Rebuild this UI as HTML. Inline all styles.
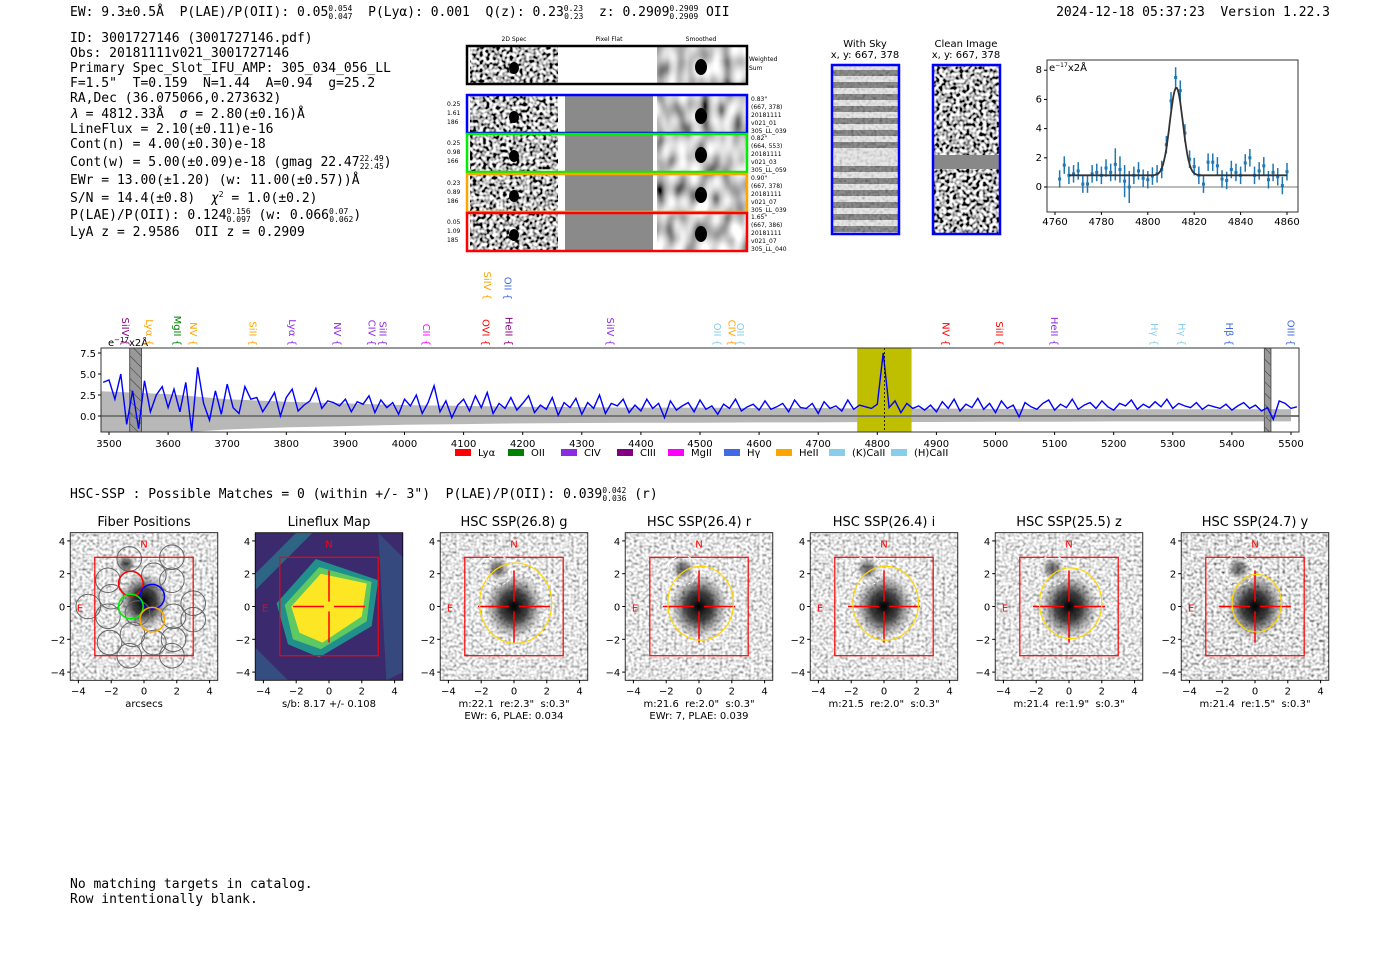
<!DOCTYPE html>
<html><head><meta charset="utf-8"><style>
body{margin:0;background:#fff;width:1400px;height:953px;overflow:hidden}
svg{display:block}
text{white-space:pre}
.mono{font-family:"DejaVu Sans Mono","Liberation Mono",monospace;font-size:13px;fill:#000}
.ax{font-family:"DejaVu Sans","Liberation Sans",sans-serif;font-size:10px}
.sm{font-family:"DejaVu Sans","Liberation Sans",sans-serif;font-size:6px}
.ttl{font-family:"DejaVu Sans","Liberation Sans",sans-serif;font-size:13px}
</style></head><body>
<svg id="fig" width="1400" height="953" viewBox="0 0 1400 953" xmlns="http://www.w3.org/2000/svg" xml:space="preserve">
<defs>
<filter id="noise" x="0" y="0" width="100%" height="100%"><feTurbulence type="fractalNoise" baseFrequency="0.35" numOctaves="1" seed="3"/><feColorMatrix type="saturate" values="0"/><feComponentTransfer><feFuncR type="linear" slope="2.6" intercept="-0.55"/><feFuncG type="linear" slope="2.6" intercept="-0.55"/><feFuncB type="linear" slope="2.6" intercept="-0.55"/><feFuncA type="linear" slope="0" intercept="1"/></feComponentTransfer></filter>
<filter id="noiseHard" x="0" y="0" width="100%" height="100%"><feTurbulence type="fractalNoise" baseFrequency="0.3" numOctaves="1" seed="7"/><feColorMatrix type="saturate" values="0"/><feComponentTransfer><feFuncR type="linear" slope="5" intercept="-2"/><feFuncG type="linear" slope="5" intercept="-2"/><feFuncB type="linear" slope="5" intercept="-2"/><feFuncA type="linear" slope="0" intercept="1"/></feComponentTransfer></filter>
<filter id="smooth" x="0" y="0" width="100%" height="100%"><feTurbulence type="fractalNoise" baseFrequency="0.09 0.05" numOctaves="1" seed="11"/><feColorMatrix type="saturate" values="0"/><feComponentTransfer><feFuncR type="linear" slope="2.5" intercept="-0.65"/><feFuncG type="linear" slope="2.5" intercept="-0.65"/><feFuncB type="linear" slope="2.5" intercept="-0.65"/><feFuncA type="linear" slope="0" intercept="1"/></feComponentTransfer></filter>
<radialGradient id="blob"><stop offset="0" stop-color="#000" stop-opacity="1"/><stop offset="0.45" stop-color="#222" stop-opacity="0.85"/><stop offset="1" stop-color="#666" stop-opacity="0"/></radialGradient>
<pattern id="hatch" width="8" height="8" patternUnits="userSpaceOnUse" patternTransform="rotate(-45)"><rect width="8" height="8" fill="#999"/><line x1="0" y1="0" x2="0" y2="8" stroke="#333" stroke-width="1"/></pattern>
</defs>

<text class="mono" x="70" y="16">EW: 9.3±0.5Å  P(LAE)/P(OII): 0.05<tspan font-size="8" dy="-5">0.054</tspan><tspan font-size="8" dx="-24" dy="8">0.047</tspan><tspan dy="-3">  P(Lyα): 0.001  Q(z): 0.23</tspan><tspan font-size="8" dy="-5">0.23</tspan><tspan font-size="8" dx="-19" dy="8">0.23</tspan><tspan dy="-3">  z: 0.2909</tspan><tspan font-size="8" dy="-5">0.2909</tspan><tspan font-size="8" dx="-29" dy="8">0.2909</tspan><tspan dy="-3"> OII</tspan></text>
<text class="mono" x="1330" y="16" text-anchor="end">2024-12-18 05:37:23  Version 1.22.3</text>

<g>
<text class="mono" x="70" y="42">ID: 3001727146 (3001727146.pdf)</text>
<text class="mono" x="70" y="57">Obs: 20181111v021_3001727146</text>
<text class="mono" x="70" y="72">Primary Spec_Slot_IFU_AMP: 305_034_056_LL</text>
<text class="mono" x="70" y="87">F=1.5"  T=0.159  N=1.44  A=0.94  g=25.2</text>
<text class="mono" x="70" y="102">RA,Dec (36.075066,0.273632)</text>
<text class="mono" x="70" y="118"><tspan font-style="italic">λ</tspan> = 4812.33Å  <tspan font-style="italic">σ</tspan> = 2.80(±0.16)Å</text>
<text class="mono" x="70" y="133">LineFlux = 2.10(±0.11)e-16</text>
<text class="mono" x="70" y="148">Cont(n) = 4.00(±0.30)e-18</text>
<text class="mono" x="70" y="166">Cont(w) = 5.00(±0.09)e-18 (gmag 22.47<tspan font-size="8" dy="-5">22.49</tspan><tspan font-size="8" dx="-24" dy="8">22.45</tspan><tspan dy="-3">)</tspan></text>
<text class="mono" x="70" y="184">EWr = 13.00(±1.20) (w: 11.00(±0.57))Å</text>
<text class="mono" x="70" y="202">S/N = 14.4(±0.8)  <tspan font-style="italic">χ</tspan><tspan font-size="8" dy="-5">2</tspan><tspan dy="5"> = 1.0(±0.2)</tspan></text>
<text class="mono" x="70" y="219">P(LAE)/P(OII): 0.124<tspan font-size="8" dy="-5">0.156</tspan><tspan font-size="8" dx="-24" dy="8">0.097</tspan><tspan dy="-3"> (w: 0.066</tspan><tspan font-size="8" dy="-5">0.07</tspan><tspan font-size="8" dx="-19" dy="8">0.062</tspan><tspan dy="-3">)</tspan></text>
<text class="mono" x="70" y="236">LyA z = 2.9586  OII z = 0.2909</text>
</g>

<g id="spec2d"></g>
<g id="skyimgs"></g>
<g id="zoomspec"></g>
<g id="fullspec"></g>

<text class="mono" x="70" y="498">HSC-SSP : Possible Matches = 0 (within +/- 3")  P(LAE)/P(OII): 0.039<tspan font-size="8" dy="-5">0.042</tspan><tspan font-size="8" dx="-24" dy="8">0.036</tspan><tspan dy="-3"> (r)</tspan></text>
<g id="cutouts"></g>

<text class="mono" x="70" y="888">No matching targets in catalog.</text>
<text class="mono" x="70" y="903">Row intentionally blank.</text>
</svg>

<script>
const NS='http://www.w3.org/2000/svg';
function mk(parent,tag,attrs,txt){const e=document.createElementNS(NS,tag);for(const k in attrs)e.setAttribute(k,attrs[k]);if(txt!==undefined)e.textContent=txt;parent.appendChild(e);return e;}

const specStart=3490, specStep=10;
const specFlux=[4.0,4.3,2.0,5.0,-1.0,3.0,-1.5,4.2,0.5,2.5,
3.5,1.0,3.2,0.5,4.0,-1.8,5.8,1.5,-0.5,3.0,
0.2,3.8,1.0,0.3,3.5,2.0,2.2,0.5,1.6,2.8,
0.0,2.2,3.2,0.6,1.3,1.8,3.3,0.9,1.8,1.6,
1.2,2.0,0.5,1.7,1.4,2.4,0.4,1.9,1.0,1.6,
0.2,2.0,1.2,2.5,0.3,1.6,3.6,0.5,1.8,-0.2,
1.3,2.0,0.6,2.4,1.0,2.8,0.3,1.5,0.9,2.2,
0.7,1.5,2.4,0.4,1.3,0.8,2.2,0.1,1.6,1.0,
2.1,0.2,1.6,0.9,2.5,0.3,1.5,1.2,2.0,0.4,
1.3,0.6,2.0,0.9,1.5,-0.2,1.8,0.7,1.2,1.6,
0.5,1.9,0.8,1.2,0.2,1.4,0.9,2.0,0.6,1.1,
1.4,0.7,1.8,0.8,1.1,1.5,0.5,1.9,1.0,0.9,
1.5,0.3,1.7,0.9,1.2,0.6,1.9,0.8,1.3,1.1,
0.9,1.4,7.5,1.0,1.8,0.4,1.5,0.9,1.2,0.7,
1.3,0.5,1.7,0.9,2.0,0.6,1.4,1.0,2.1,0.8,
1.5,0.4,1.8,0.9,1.3,-0.1,1.6,1.1,0.8,1.5,
1.9,0.7,1.4,1.0,2.0,0.8,1.3,1.6,0.9,1.8,
1.1,0.7,1.5,1.2,1.9,0.8,1.4,1.0,1.7,1.1,
2.0,0.9,1.5,1.2,1.0,1.6,0.8,1.3,1.1,0.9,
1.4,0.7,1.2,1.6,0.9,1.3,0.6,1.0,-0.4,1.8,
1.5,0.9,1.1];
const errWaves=[3500,3600,3700,3800,3900,4000,4100,4200,4300,4400,4500,4600,4700,4800,4900,5000,5100,5200,5300,5400,5500];
const errVals=[3.0,2.6,2.0,1.7,1.5,1.3,1.2,1.1,1.05,1.0,1.0,0.95,0.95,0.9,0.9,0.85,0.85,0.8,0.8,0.8,0.8];
const specXTicks=[3500,3600,3700,3800,3900,4000,4100,4200,4300,4400,4500,4600,4700,4800,4900,5000,5100,5200,5300,5400,5500];
const specYTicks=[0.0,2.5,5.0,7.5];
const lineWaves=[3527,3568,3615,3642,3743,3810,3886,3944,3963,4036,4137,4176,4140,4174,4348,4529,4553,4568,4915,5006,5099,5268,5315,5395,5499];
const lineNames=['SiIV','Lyα','MgII','NV','SiII','Lyα','NV','CIV','SiII','CII','OVI','HeII','SiIV','OII','SiIV','OII','CIV','OII','NV','SiII','HeII','Hγ','Hγ','Hβ','OIII'];
const lineColors=['#800080','#ffa500','#008000','#ffa500','#ffa500','#8a2be2','#8a2be2','#8a2be2','#8a2be2','#ff00ff','#ff0000','#800080','#ffa500','#4169e1','#8a2be2','#87ceeb','#ffa500','#87ceeb','#ff0000','#ff0000','#8a2be2','#87ceeb','#87ceeb','#4169e1','#4169e1'];
const lineTier=[0,0,0,0,0,0,0,0,0,0,0,0,1,1,0,0,0,0,0,0,0,0,0,0,0];
const legendNames=['Lyα','OII','CIV','CIII','MgII','Hγ','HeII','(K)CaII','(H)CaII'];
const legendColors=['#ff0000','#008000','#8a2be2','#800080','#ff00ff','#4169e1','#ffa500','#87ceeb','#87ceeb'];
const fitBand=[4766,4858];
const maskBands=[[3535,3555],[5455,5466]];

(function(){
 const g=document.getElementById('fullspec');
 const L=101,R=1299,T=348,B=432;
 const X=w=>109+(w-3500)*0.591, Y=v=>416-v*8.4;
 const clip=mk(g,'clipPath',{id:'specclip'});mk(clip,'rect',{x:L,y:T,width:R-L,height:B-T});
 const inner=mk(g,'g',{'clip-path':'url(#specclip)'});
 let up='',lo='';
 errWaves.forEach((w,i)=>{up+=(i?'L':'M')+X(w)+','+Y(errVals[i])+' ';});
 for(let i=errWaves.length-1;i>=0;i--){lo+='L'+X(errWaves[i])+','+Y(-0.8*errVals[i])+' ';}
 const eb=mk(inner,'path',{d:up.replace('M'+X(3500),'M'+(L-10))+lo+'L'+(L-10)+','+Y(-2.4)+'Z',fill:'#b8b8b8'});
 
 const fb=mk(inner,'rect',{x:X(fitBand[0]),y:T,width:X(fitBand[1])-X(fitBand[0]),height:B-T,fill:'#bfbf00'});
 
 maskBands.forEach(b=>{const m=mk(inner,'rect',{x:X(b[0]),y:T,width:X(b[1])-X(b[0]),height:B-T,fill:'url(#hatch)',stroke:'#555'});
  });
 mk(inner,'line',{x1:L,x2:R,y1:Y(0),y2:Y(0),stroke:'#777','stroke-width':2});
 let d='';specFlux.forEach((v,i)=>{d+=(i?'L':'M')+X(specStart+i*specStep).toFixed(1)+','+Y(v).toFixed(1)+' ';});
 const sl=mk(inner,'path',{d,fill:'none',stroke:'#0000ff','stroke-width':1.4});
 
 mk(inner,'line',{x1:X(4812.3),x2:X(4812.3),y1:T,y2:B,stroke:'#000','stroke-dasharray':'2,2','stroke-width':0.8});
 mk(g,'rect',{x:L,y:T,width:R-L,height:B-T,fill:'none',stroke:'#333'});
 specXTicks.forEach(t=>{mk(g,'line',{x1:X(t),x2:X(t),y1:B,y2:B+3,stroke:'#000'});
  const tl=mk(g,'text',{class:'ax',x:X(t),y:B+15,'text-anchor':'middle'},t);
  });
 specYTicks.forEach(t=>{mk(g,'line',{x1:L-3,x2:L,y1:Y(t),y2:Y(t),stroke:'#000'});
  const tl=mk(g,'text',{class:'ax',x:L-5,y:Y(t)+4,'text-anchor':'end'},t.toFixed(1));
  });
 const ul=mk(g,'text',{class:'ax',x:108,y:346},'e');mk(ul,'tspan',{'font-size':7,dy:-4},'−17');mk(ul,'tspan',{dy:4},'x2Å');
 
 lineWaves.forEach((w,i)=>{const x=X(w);const base=lineTier[i]?300:346;
  const t=mk(g,'text',{class:'ax',transform:`translate(${x-3},${base}) rotate(90)`,style:'fill:'+lineColors[i],'text-anchor':'end','font-size':9},lineNames[i]+' {');
  });
 const lx=[455,508,561,617,668,724,776,829,891];
 legendNames.forEach((n,i)=>{const le=mk(g,'g',{});
  
  mk(le,'rect',{x:lx[i],y:449,width:16,height:7,fill:legendColors[i]});
  mk(le,'text',{class:'ax','font-size':8,x:lx[i]+23,y:456},n);});
})();

const zWaves=[4762,4764,4766,4768,4770,4772,4774,4776,4778,4780,4782,4784,4786,4788,4790,4792,4794,4796,4798,4800,4802,4804,4806,4808,4810,4812,4814,4816,4818,4820,4822,4824,4826,4828,4830,4832,4834,4836,4838,4840,4842,4844,4846,4848,4850,4852,4854,4856,4858,4860];
const zFlux=[0.55,1.5,0.8,0.9,1.1,0.2,0.2,0.9,1.0,0.8,1.3,1.0,1.55,1.2,0.4,0.0,0.8,1.1,0.6,0.5,0.75,0.9,1.2,2.9,5.9,7.5,6.6,3.7,1.9,1.4,0.8,0.2,1.7,1.7,1.45,0.55,0.45,1.2,1.0,0.8,1.65,2.0,0.8,1.1,1.45,0.5,1.0,0.7,0.1,1.05];
const zErr=[0.6,0.6,0.6,0.6,0.6,0.6,0.6,0.6,0.6,0.6,0.6,0.6,1.1,0.9,1.1,1.1,0.6,0.6,0.6,0.6,0.6,0.6,0.6,0.6,0.6,0.7,0.7,0.6,0.6,0.6,0.6,0.6,0.6,0.6,0.6,0.6,0.6,0.6,0.6,0.6,0.6,0.6,0.6,0.6,0.6,0.6,0.6,0.6,0.6,0.6];
const zFit=[0.8,6.0,4812.3,2.8];
const zXTicks=[4760,4780,4800,4820,4840,4860];
const zYTicks=[0,2,4,6,8];
(function(){
 const g=document.getElementById('zoomspec');
 const L=1047,R=1298,T=60,B=212;
 const X=w=>1055+(w-4760)*2.32, Y=v=>187-v*14.6;
 mk(g,'line',{x1:L,x2:R,y1:Y(0),y2:Y(0),stroke:'#777'});
 zWaves.forEach((w,i)=>{const p=mk(g,'g',{});
  
  mk(p,'line',{x1:X(w),x2:X(w),y1:Y(zFlux[i]-zErr[i]),y2:Y(zFlux[i]+zErr[i]),stroke:'#1f77b4','stroke-width':1.5});
  mk(p,'rect',{x:X(w)-1.5,y:Y(zFlux[i])-1.5,width:3,height:3,fill:'#1f77b4'});});
 let d='';for(let w=4766;w<=4860;w+=0.5){const v=zFit[0]+zFit[1]*Math.exp(-0.5*((w-zFit[2])/zFit[3])**2);d+=(w===4766?'M':'L')+X(w).toFixed(1)+','+Y(v).toFixed(1);}
 const fl=mk(g,'path',{d,fill:'none',stroke:'#333','stroke-width':1.8});
 
 mk(g,'rect',{x:L,y:T,width:R-L,height:B-T,fill:'none',stroke:'#333'});
 zXTicks.forEach(t=>{mk(g,'line',{x1:X(t),x2:X(t),y1:B,y2:B+3,stroke:'#000'});
  const tl=mk(g,'text',{class:'ax',x:X(t),y:B+13,'text-anchor':'middle','font-size':9},t);
  });
 zYTicks.forEach(t=>{mk(g,'line',{x1:L-3,x2:L,y1:Y(t),y2:Y(t),stroke:'#000'});
  const tl=mk(g,'text',{class:'ax',x:L-5,y:Y(t)+3,'text-anchor':'end','font-size':9},t);
  });
 mk(g,'text',{class:'ax','font-size':9,x:1049,y:71},'e').innerHTML+='';
 const ul=g.lastChild;mk(ul,'tspan',{'font-size':6,dy:-4},'−17');mk(ul,'tspan',{dy:4},'x2Å');
})();

(function(){
 const g=document.getElementById('spec2d');
 [['2D Spec',514],['Pixel Flat',609],['Smoothed',701]].forEach(a=>mk(g,'text',{class:'sm','font-size':7,x:a[1],y:41,'text-anchor':'middle'},a[0]));
 const rows=[[46,84,'#000',null,null],[95,133,'#0000ff',['0.25','1.61','186'],['0.83"','(667, 378)','20181111','v021_01','305_LL_039']],
 [134,172,'#00ee00',['0.25','0.98','166'],['0.82"','(664, 553)','20181111','v021_03','305_LL_059']],
 [174,212,'#ffa500',['0.23','0.89','186'],['0.90"','(667, 378)','20181111','v021_07','305_LL_039']],
 [213,251,'#ff0000',['0.05','1.09','185'],['1.65"','(667, 386)','20181111','v021_07','305_LL_040']]];
 rows.forEach((r,i)=>{const[y0,y1,c,l,rt]=r;const h=y1-y0;
  const row=mk(g,'g',{});
  
  mk(row,'rect',{x:466,y:y0,width:282,height:h,fill:'#fff'});
  mk(row,'rect',{x:470,y:y0+1,width:88,height:h-2,filter:'url(#noiseHard)'});
  mk(row,'ellipse',{cx:514,cy:y0+h/2+3,rx:5,ry:6,fill:'#000'});
  mk(row,'rect',{x:565,y:y0+1,width:88,height:h-2,fill:i?'#8a8a8a':'#fff'});
  mk(row,'rect',{x:657,y:y0+1,width:89,height:h-2,filter:'url(#smooth)'});
  mk(row,'ellipse',{cx:701,cy:y0+h/2+2,rx:6,ry:8,fill:'#000'});
  mk(row,'rect',{x:467,y:y0,width:280,height:h,fill:'none',stroke:c,'stroke-width':2.5});
  if(l){l.forEach((s,k)=>mk(row,'text',{class:'sm','font-size':7,x:447,y:y0+11+k*9},s));
   rt.forEach((s,k)=>mk(row,'text',{class:'sm','font-size':5.5,x:751,y:y0+6+k*8},s));}
  else{mk(row,'text',{class:'sm','font-size':7,x:749,y:61},'Weighted');mk(row,'text',{class:'sm','font-size':7,x:749,y:70},'Sum');}
 });
})();

(function(){
 const g=document.getElementById('skyimgs');
 [['With Sky',865],['Clean Image',966]].forEach(a=>{mk(g,'text',{class:'ax','font-size':9,x:a[1],y:47,'text-anchor':'middle'},a[0]);mk(g,'text',{class:'ax','font-size':9,x:a[1],y:58,'text-anchor':'middle'},'x, y: 667, 378');});
 const s=mk(g,'g',{});
 mk(s,'rect',{x:832,y:65,width:67,height:169,fill:'#ddd'});
 for(let k=0;k<14;k++){if(k===7)continue;mk(s,'rect',{x:832,y:70+k*12,width:67,height:6,fill:'#444',opacity:0.85});}
 mk(s,'rect',{x:832,y:65,width:67,height:169,filter:'url(#noise)',opacity:0.3});
 mk(s,'rect',{x:832,y:65,width:67,height:169,fill:'none',stroke:'#0000ff','stroke-width':2.5});
 const c=mk(g,'g',{});
 mk(c,'rect',{x:933,y:65,width:67,height:169,filter:'url(#noiseHard)'});
 mk(c,'rect',{x:933,y:155,width:67,height:14,fill:'#888'});
 mk(c,'rect',{x:933,y:65,width:67,height:169,fill:'none',stroke:'#0000ff','stroke-width':2.5});
})();

const panelCenters=[144,329,514,699,884,1069,1255];
const panelTitles=['Fiber Positions','Lineflux Map','HSC SSP(26.8) g','HSC SSP(26.4) r','HSC SSP(26.4) i','HSC SSP(25.5) z','HSC SSP(24.7) y'];
const panelCap1=['arcsecs','s/b: 8.17 +/- 0.108','m:22.1  re:2.3"  s:0.3"','m:21.6  re:2.0"  s:0.3"','m:21.5  re:2.0"  s:0.3"','m:21.4  re:1.9"  s:0.3"','m:21.4  re:1.5"  s:0.3"'];
const panelCap2=['','','EWr: 6, PLAE: 0.034','EWr: 7, PLAE: 0.039','','',''];
const ellipseR=[0,0,2.2,2.0,2.0,1.9,1.5];
const cutTicks=[-4,-2,0,2,4];
const fiberPos=[[-0.9,2.9],[1.7,3.0],[-2.2,1.6],[1.7,1.6],[-3.4,0.0],[3.0,0.2],[-2.2,-0.6],[1.8,-0.6],[3.0,-0.8],[-2.1,-2.2],[-0.7,-1.7],[0.6,-2.2],[1.8,-2.0],[-0.9,-3.0],[1.7,-3.0],[-0.4,-0.4],[0.6,1.9],[-2.0,0.6]];
const fiberColored=[[-0.8,1.4,'#ff0000'],[0.5,0.6,'#0000ff'],[-0.8,0.0,'#00ee00'],[0.5,-0.8,'#ffa500']];
(function(){
 const g=document.getElementById('cutouts');
 panelCenters.forEach((cx,p)=>{
  const S=16.4, cy=606.5, X=v=>cx+v*S, Y=v=>cy-v*S;
  const pg=mk(g,'g',{});
  
  
  const x0=X(-4.5),y0=Y(4.5),w=9*S;
  const cid='cc'+p;const cp=mk(pg,'clipPath',{id:cid});mk(cp,'rect',{x:x0,y:y0,width:w,height:w});
  const im=mk(pg,'g',{'clip-path':`url(#${cid})`});
  if(p===1){
   mk(im,'rect',{x:x0,y:y0,width:w,height:w,fill:'#3b2a6e'});
   mk(im,'polygon',{points:`${X(-4.5)},${Y(2)} ${X(-2)},${Y(4.5)} ${X(-1)},${Y(4.5)} ${X(-4.5)},${Y(1)}`,fill:'#2a7f8e',opacity:0.7});
   mk(im,'polygon',{points:`${X(3)},${Y(4.5)} ${X(4.5)},${Y(3)} ${X(4.5)},${Y(-4)} ${X(3.5)},${Y(-4.5)}`,fill:'#31688e',opacity:0.5});
   mk(im,'polygon',{points:`${X(-4.5)},${Y(-2.5)} ${X(-2.5)},${Y(-4.5)} ${X(-4.5)},${Y(-4.5)}`,fill:'#31688e',opacity:0.6});
   mk(im,'polygon',{points:`${X(-3.2)},${Y(0.2)} ${X(-0.8)},${Y(2.9)} ${X(3)},${Y(1.6)} ${X(2.6)},${Y(-1.2)} ${X(-0.6)},${Y(-3.1)} ${X(-2.5)},${Y(-2.3)}`,fill:'#21908d'});
   mk(im,'polygon',{points:`${X(-2.7)},${Y(0.1)} ${X(-0.6)},${Y(2.4)} ${X(2.6)},${Y(1.5)} ${X(2.3)},${Y(-0.9)} ${X(-0.5)},${Y(-2.6)} ${X(-2.2)},${Y(-2.0)}`,fill:'#5ec962'});
   mk(im,'polygon',{points:`${X(-2.3)},${Y(0)} ${X(-0.5)},${Y(2.0)} ${X(2.3)},${Y(1.4)} ${X(2.0)},${Y(-0.6)} ${X(-0.4)},${Y(-2.2)} ${X(-1.8)},${Y(-1.6)}`,fill:'#fde725'});
  }else{
   mk(im,'rect',{x:x0,y:y0,width:w,height:w,filter:'url(#noise)',opacity:p===6?1:0.85});
   if(p===0){mk(im,'ellipse',{cx:X(0),cy:Y(0.3),rx:S*1.6,ry:S*1.8,fill:'url(#blob)'});mk(im,'ellipse',{cx:X(-1.1),cy:Y(2.6),rx:S*0.6,ry:S*0.6,fill:'url(#blob)',opacity:0.7});}
   else{mk(im,'ellipse',{cx:X(0),cy:Y(0),rx:S*1.8,ry:S*2.0,fill:'url(#blob)'});mk(im,'circle',{cx:X(-1),cy:Y(2.3),r:S*0.7,fill:'url(#blob)',opacity:0.6});}
  }
  mk(pg,'rect',{x:x0,y:y0,width:w,height:w,fill:'none',stroke:'#000','stroke-width':0.8});
  if(p===0){
   fiberPos.forEach(f=>mk(pg,'circle',{cx:X(f[0]),cy:Y(f[1]),r:S*0.75,fill:'none',stroke:'#666','stroke-width':1}));
   fiberColored.forEach(f=>{const c=mk(pg,'circle',{cx:X(f[0]),cy:Y(f[1]),r:S*0.75,fill:'none',stroke:f[2],'stroke-width':1.5});
    });
  }
  mk(pg,'rect',{x:X(-3),y:Y(3),width:6*S,height:6*S,fill:'none',stroke:'#ff0000','stroke-width':1.2});
  if(p>=1){
   mk(pg,'line',{x1:X(-2.2),x2:X(-0.3),y1:Y(0),y2:Y(0),stroke:'#f00','stroke-width':1.5});
   mk(pg,'line',{x1:X(0.3),x2:X(2.2),y1:Y(0),y2:Y(0),stroke:'#f00','stroke-width':1.5});
   mk(pg,'line',{x1:X(0),x2:X(0),y1:Y(2.2),y2:Y(0.3),stroke:'#f00','stroke-width':1.5});
   mk(pg,'line',{x1:X(0),x2:X(0),y1:Y(-0.3),y2:Y(-2.2),stroke:'#f00','stroke-width':1.5});
  }
  if(p>=2){
   const r=ellipseR[p];
   mk(pg,'ellipse',{cx:X(0.1),cy:Y(0.2),rx:S*r,ry:S*(r+0.25),fill:'none',stroke:'#ffd700','stroke-width':1.2});
   mk(pg,'circle',{cx:X(-1.0),cy:Y(2.2),r:S*0.9,fill:'none',stroke:'#fff','stroke-dasharray':'3,2'});
  }
  mk(pg,'text',{class:'ax','font-size':11,style:'fill:#f00',x:X(0),y:Y(3.6),'text-anchor':'middle'},'N');
  mk(pg,'text',{class:'ax','font-size':11,style:'fill:#f00',x:X(-3.9),y:Y(-0.3),'text-anchor':'middle'},'E');
  const tt=mk(pg,'text',{class:'ttl',x:cx,y:526,'text-anchor':'middle'},panelTitles[p]);
  
  cutTicks.forEach(t=>{
   mk(pg,'line',{x1:X(t),x2:X(t),y1:y0+w,y2:y0+w+3,stroke:'#000'});
   mk(pg,'text',{class:'ax',x:X(t),y:y0+w+14,'text-anchor':'middle'},(t<0?'−':'')+Math.abs(t));
   mk(pg,'line',{x1:x0-3,x2:x0,y1:Y(t),y2:Y(t),stroke:'#000'});
   mk(pg,'text',{class:'ax',x:x0-5,y:Y(t)+4,'text-anchor':'end'},(t<0?'−':'')+Math.abs(t));
  });
  mk(pg,'text',{class:'ax',x:cx,y:707,'text-anchor':'middle'},panelCap1[p]);
  if(panelCap2[p])mk(pg,'text',{class:'ax',x:cx,y:719,'text-anchor':'middle'},panelCap2[p]);
 });
})();
</script>
</body></html>
